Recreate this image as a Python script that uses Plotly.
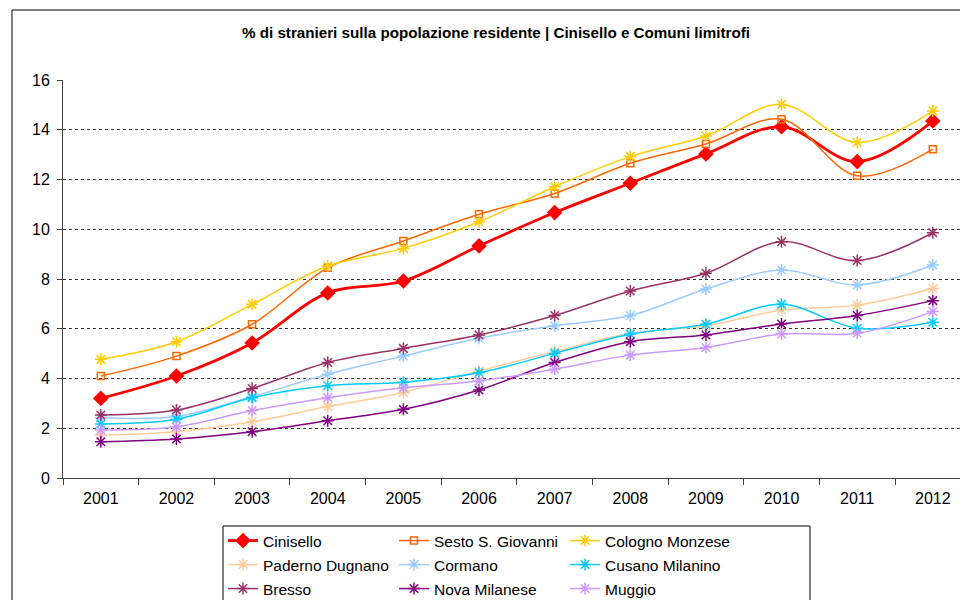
import plotly.graph_objects as go

years = ["2001", "2002", "2003", "2004", "2005", "2006", "2007", "2008", "2009", "2010", "2011", "2012"]
y_ticks = [0, 2, 4, 6, 8, 10, 12, 14, 16]

cinisello = [3.20, 4.10, 5.43, 7.44, 7.92, 9.33, 10.67, 11.85, 13.03, 14.12, 12.72, 14.35]
sesto = [4.10, 4.90, 6.18, 8.45, 9.53, 10.60, 11.44, 12.65, 13.43, 14.42, 12.15, 13.22]
cologno = [4.77, 5.48, 6.98, 8.52, 9.23, 10.30, 11.71, 12.92, 13.75, 15.02, 13.49, 14.75]
paderno = [1.73, 1.86, 2.26, 2.87, 3.44, 4.30, 5.08, 5.82, 6.12, 6.75, 6.95, 7.62]
cormano = [2.43, 2.47, 3.27, 4.17, 4.90, 5.62, 6.12, 6.53, 7.60, 8.36, 7.76, 8.56]
cusano = [2.17, 2.36, 3.23, 3.71, 3.85, 4.23, 5.01, 5.78, 6.18, 6.98, 6.02, 6.26]
bresso = [2.53, 2.73, 3.60, 4.64, 5.21, 5.75, 6.53, 7.52, 8.23, 9.50, 8.74, 9.86]
nova = [1.46, 1.57, 1.86, 2.30, 2.76, 3.54, 4.64, 5.48, 5.75, 6.19, 6.53, 7.13]
muggio = [1.93, 2.06, 2.71, 3.23, 3.63, 3.90, 4.37, 4.94, 5.25, 5.79, 5.82, 6.69]

series = [
    ("Cinisello", cinisello, "#FF0000", "diamond", 12, 2.8, "legend"),
    ("Sesto S. Giovanni", sesto, "#FF6600", "square-open", 7, 1.5, "legend"),
    ("Cologno Monzese", cologno, "#FFCC00", "asterisk-open", 10, 1.5, "legend"),
    ("Paderno Dugnano", paderno, "#FFCC99", "asterisk-open", 10, 1.5, "legend2"),
    ("Cormano", cormano, "#99CCFF", "asterisk-open", 10, 1.5, "legend2"),
    ("Cusano Milanino", cusano, "#00CCFF", "asterisk-open", 10, 1.5, "legend2"),
    ("Bresso", bresso, "#993366", "asterisk-open", 10, 1.5, "legend3"),
    ("Nova Milanese", nova, "#800080", "asterisk-open", 10, 1.5, "legend3"),
    ("Muggio", muggio, "#CC99FF", "asterisk-open", 10, 1.5, "legend3"),
]

FONT = "Liberation Sans, Arial, sans-serif"

fig = go.Figure()
for name, vals, color, sym, size, lw, leg in series:
    if sym.endswith("open"):
        marker = dict(symbol=sym, size=size, color=color, line=dict(color=color, width=1.5))
    else:
        marker = dict(symbol=sym, size=size, color=color, line=dict(color=color, width=0))
    fig.add_trace(go.Scatter(
        x=years, y=vals, name=name, mode="lines+markers",
        line=dict(color=color, width=lw, shape="spline", smoothing=1.0),
        marker=marker, legend=leg,
    ))

# page coordinates (window) -> figure (page body has an 8px margin)
OFF = 8
W, H = 968 - OFF, 600 - OFF
L = 63 - OFF
T = 80 - OFF
BOTTOM = 478 - OFF
B = H - BOTTOM
PW = W - L
PH = BOTTOM - T

def px_x(p):
    return (p - OFF - L) / PW

def px_y(p):
    return (BOTTOM - (p - OFF)) / PH

leg_common = dict(orientation="h", entrywidth=126, entrywidthmode="pixels",
                  font=dict(family=FONT, size=15.5, color="black"),
                  bgcolor="rgba(0,0,0,0)", borderwidth=0,
                  xanchor="left", yanchor="middle", x=px_x(223))

fig.update_layout(
    width=W, height=H,
    margin=dict(l=L, r=0, t=T, b=B, pad=0, autoexpand=False),
    paper_bgcolor="white", plot_bgcolor="white",
    font=dict(family=FONT, size=15, color="black"),
    title=dict(text="<b>% di stranieri sulla popolazione residente | Cinisello e Comuni limitrofi</b>",
               font=dict(family=FONT, size=15.2, color="black"),
               xref="paper", x=px_x(496), xanchor="center",
               yref="container", y=1 - (33 - OFF) / H, yanchor="middle"),
    xaxis=dict(type="category", range=[-0.5, 11.465], tickson="boundaries",
               ticks="outside", ticklen=6, tickcolor="#404040",
               showline=True, linecolor="#404040", linewidth=1,
               showgrid=False, tickfont=dict(family=FONT, size=16, color="black"),
               ticklabelstandoff=6),
    yaxis=dict(range=[0, 16], tickvals=y_ticks, ticks="outside", ticklen=5,
               tickcolor="#404040", showline=True, linecolor="#404040", linewidth=1,
               showgrid=True, gridcolor="#333333", griddash="dot", gridwidth=1,
               zeroline=False, tickfont=dict(family=FONT, size=16, color="black"),
               ticklabelstandoff=4),
    legend=dict(**leg_common, y=px_y(541)),
    legend2=dict(**leg_common, y=px_y(565)),
    legend3=dict(**leg_common, y=px_y(589)),
    shapes=[
        dict(type="rect", xref="paper", yref="paper",
             x0=px_x(12), y0=px_y(640), x1=px_x(1000), y1=px_y(10),
             line=dict(color="black", width=1), fillcolor="rgba(0,0,0,0)", layer="below"),
        dict(type="rect", xref="paper", yref="paper",
             x0=px_x(223), y0=px_y(640), x1=px_x(810), y1=px_y(526),
             line=dict(color="black", width=1), fillcolor="rgba(0,0,0,0)", layer="above"),
    ],
    showlegend=True,
)

fig.write_html("out.html")
